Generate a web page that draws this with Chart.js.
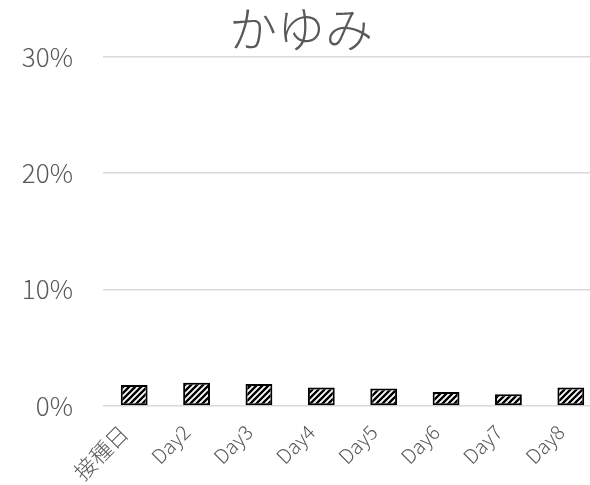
<!DOCTYPE html>
<html>
<head>
<meta charset="utf-8">
<script src="https://cdn.jsdelivr.net/npm/chart.js@4"></script>
<style>
  html, body { margin: 0; padding: 0; background: #fff; overflow: hidden; }
  #wrap { width: 602px; height: 485px; }
</style>
</head>
<body>
<div id="wrap"><canvas id="itchChart" width="602" height="485"></canvas></div>
<script>
const categories = ["接種日", "Day2", "Day3", "Day4", "Day5", "Day6", "Day7", "Day8"];
const itchRates = [0.018, 0.020, 0.019, 0.016, 0.015, 0.012, 0.010, 0.016];
const yTicks = [0, 0.1, 0.2, 0.3];

const fontFamily = "'Noto Sans CJK JP', 'Noto Sans', sans-serif";
const textColor = "#595959";

function makeHatch() {
    const p = document.createElement("canvas");
    p.width = 6;
    p.height = 6;
    const c = p.getContext("2d");
    c.fillStyle = "#fff";
    c.fillRect(0, 0, 6, 6);
    c.strokeStyle = "#000";
    c.lineWidth = 2.4;
    c.beginPath();
    c.moveTo(-1, 7); c.lineTo(7, -1);
    c.moveTo(-4, 4); c.lineTo(4, -4);
    c.moveTo(2, 10); c.lineTo(10, 2);
    c.stroke();
    return c.createPattern(p, "repeat");
}

const ctx = document.getElementById("itchChart").getContext("2d");

new Chart(ctx, {
    type: "bar",
    data: {
        labels: categories,
        datasets: [{
            data: itchRates,
            backgroundColor: makeHatch(),
            borderColor: "#000",
            borderWidth: 2,
            borderSkipped: false,
            categoryPercentage: 1,
            barPercentage: 0.43
        }]
    },
    options: {
        responsive: false,
        animation: false,
        layout: { padding: 0 },
        plugins: {
            legend: { display: false },
            tooltip: { enabled: false },
            title: {
                display: true,
                text: "かゆみ",
                color: textColor,
                font: { family: fontFamily, size: 48, weight: 300, lineHeight: 1.1 },
                padding: { top: 2, bottom: 2 }
            }
        },
        scales: {
            x: {
                grid: { display: false },
                border: { display: false },
                ticks: {
                    color: textColor,
                    font: c => ({ family: fontFamily, size: c.index === 0 ? 22 : 20, weight: 300 }),
                    minRotation: 45,
                    maxRotation: 45,
                    padding: 6,
                    labelOffset: -10
                },
                afterFit(scale) { scale.height = 79; }
            },
            y: {
                min: 0,
                max: 0.3,
                afterBuildTicks(scale) {
                    scale.ticks = yTicks.map(v => ({ value: v }));
                },
                grid: { color: "#d9d9d9", lineWidth: 1.5, drawTicks: false },
                border: { display: false },
                ticks: {
                    color: textColor,
                    font: { family: fontFamily, size: 26, weight: 300 },
                    padding: 30,
                    callback: v => Math.round(v * 100) + "%"
                },
                afterFit(scale) { scale.width = 103; }
            }
        }
    }
});
</script>
</body>
</html>
